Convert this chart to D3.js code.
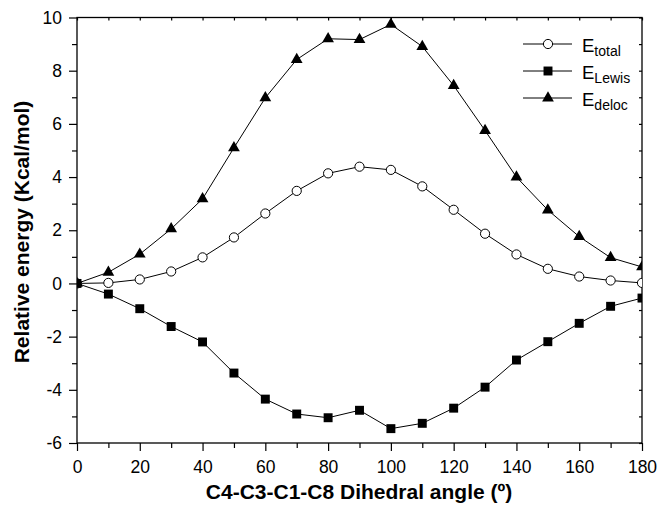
<!DOCTYPE html>
<html><head><meta charset="utf-8">
<script src="https://cdn.jsdelivr.net/npm/d3@7"></script>
<style>body{margin:0;background:#fff}svg{display:block}text{font-family:"Liberation Sans",Arial,sans-serif}</style>
</head><body><svg id="c" width="659" height="505"></svg>
<script>
const angles = [0,10,20,30,40,50,60,70,80,90,100,110,120,130,140,150,160,170,180];
const eTotal = [0,0.02,0.15,0.45,0.98,1.73,2.63,3.48,4.14,4.39,4.27,3.65,2.77,1.87,1.09,0.55,0.26,0.11,0.02];
const eLewis = [0,-0.40,-0.95,-1.62,-2.20,-3.37,-4.35,-4.91,-5.05,-4.77,-5.46,-5.26,-4.69,-3.90,-2.88,-2.19,-1.50,-0.86,-0.55];
const eDeloc = [0,0.42,1.10,2.05,3.18,5.10,6.98,8.42,9.20,9.17,9.74,8.91,7.44,5.75,4.00,2.76,1.76,0.97,0.62];
const xTicks = [0,20,40,60,80,100,120,140,160,180];
const yTicks = [-6,-4,-2,0,2,4,6,8,10];

const svg = d3.select("#c");
const L=77,R=642,T=17.5,B=443;
const x = d3.scaleLinear().domain([0,180]).range([L,R]);
const y = d3.scaleLinear().domain([-6,10]).range([B,T]);
const fmt = d => String(d);

svg.append("defs").append("clipPath").attr("id","clip").append("rect")
  .attr("x",L).attr("y",T).attr("width",R-L).attr("height",B-T);

svg.append("rect").attr("x",L).attr("y",T).attr("width",R-L).attr("height",B-T)
  .attr("fill","none").attr("stroke","#000").attr("stroke-width",1.3);

const minorX = d3.range(0,181,10), minorY = d3.range(-6,11,1);
const gx = svg.append("g").attr("transform",`translate(0,${B})`)
  .call(d3.axisBottom(x).tickValues(xTicks).tickSize(8).tickPadding(10).tickFormat(fmt));
gx.select(".domain").remove();
gx.selectAll("text").attr("font-size",17.5).attr("fill","#000");
svg.append("g").attr("transform",`translate(0,${B})`)
  .call(d3.axisBottom(x).tickValues(minorX.filter(v=>v%20)).tickSize(5).tickFormat(""))
  .select(".domain").remove();
const gy = svg.append("g").attr("transform",`translate(${L},0)`)
  .call(d3.axisLeft(y).tickValues(yTicks).tickSize(8).tickPadding(7).tickFormat(fmt));
gy.select(".domain").remove();
gy.selectAll("text").attr("font-size",17.5).attr("fill","#000");
svg.append("g").attr("transform",`translate(${L},0)`)
  .call(d3.axisLeft(y).tickValues(minorY.filter(v=>v%2)).tickSize(5).tickFormat(""))
  .select(".domain").remove();
svg.append("g").attr("transform",`translate(0,${T})`)
  .call(d3.axisTop(x).tickValues(minorX).tickSize(-3).tickFormat(""))
  .select(".domain").remove();
svg.append("g").attr("transform",`translate(${R},0)`)
  .call(d3.axisRight(y).tickValues(minorY).tickSize(-3).tickFormat(""))
  .select(".domain").remove();
svg.selectAll(".tick line").attr("stroke","#000").attr("stroke-width",1.2);

svg.append("text").attr("x",359).attr("y",499).attr("text-anchor","middle")
  .attr("font-size",21).attr("font-weight","bold").text("C4-C3-C1-C8 Dihedral angle (º)");
svg.append("text").attr("transform",`translate(29,232) rotate(-90)`).attr("text-anchor","middle")
  .attr("font-size",21).attr("font-weight","bold").text("Relative energy (Kcal/mol)");

const plot = svg.append("g").attr("clip-path","url(#clip)");
const line = d3.line().x((d,i)=>x(angles[i])).y(d=>y(d));
const tri = d3.symbol().type(d3.symbolTriangle).size(60);
const sq = d3.symbol().type(d3.symbolSquare).size(80);

function marker(g, kind, cx, cy){
  if(kind==="circle") g.append("circle").attr("cx",cx).attr("cy",cy).attr("r",4.6)
    .attr("fill","#fff").attr("stroke","#000").attr("stroke-width",1);
  else g.append("path").attr("d",(kind==="tri"?tri:sq)()).attr("transform",`translate(${cx},${cy})`).attr("fill","#000");
}
function series(vals, kind){
  plot.append("path").attr("d",line(vals)).attr("fill","none").attr("stroke","#000").attr("stroke-width",1);
  const g = plot.append("g");
  vals.forEach((v,i)=>marker(g,kind,x(angles[i]),y(v)));
}
series(eTotal,"circle");
series(eDeloc,"tri");
series(eLewis,"sq");

const leg = [["total","circle",44],["Lewis","sq",71],["deloc","tri",98]];
leg.forEach(([sub,kind,ly])=>{
  svg.append("line").attr("x1",523).attr("x2",572).attr("y1",ly).attr("y2",ly).attr("stroke","#000").attr("stroke-width",1);
  marker(svg,kind,548,ly);
  const t = svg.append("text").attr("x",582).attr("y",ly+8).attr("font-size",18.5);
  t.append("tspan").text("E");
  t.append("tspan").attr("font-size",14).attr("dy",4).text(sub);
});
</script></body></html>
